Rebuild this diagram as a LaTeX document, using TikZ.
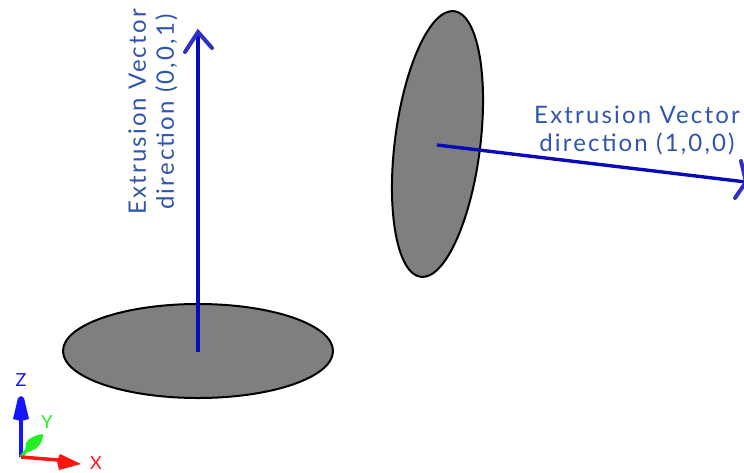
\documentclass[tikz,border=0pt]{standalone}
\usepackage{fontspec}
\setmainfont{Lato}[LetterSpace=9]
\definecolor{vec}{HTML}{0A0AB8}
\definecolor{lab}{HTML}{2F55B0}
\definecolor{disc}{HTML}{7F7F7F}
\definecolor{axz}{HTML}{1414FF}
\definecolor{axy}{HTML}{22EE22}
\definecolor{axx}{HTML}{FF1414}
\tikzset{
  discshape/.style={draw=black,fill=disc,line width=2pt},
  vecline/.style={draw=vec,line width=3.4pt},
  vechead/.style={draw=vec!85!white,line width=4pt,line cap=round},
  lbl/.style={text=lab,font=\fontsize{24}{28}\selectfont,align=center,inner sep=0pt},
  axl/.style={font=\fontsize{18}{18}\selectfont,inner sep=0pt},
}
\begin{document}
\begin{tikzpicture}[x=1pt,y=-1pt]
\useasboundingbox (0,0) rectangle (744,472);
% discs
\draw[discshape] (198,351) ellipse [x radius=135,y radius=47];
\draw[discshape] (437.5,144) ellipse [x radius=42.7,y radius=133.9,rotate=-7.17];
% vectors
\coordinate (v1s) at (198,352);
\coordinate (v1e) at (198,32);
\coordinate (v1l) at (185,52);
\coordinate (v1r) at (212,48);
\coordinate (v2s) at (437,145);
\coordinate (v2e) at (746,182);
\coordinate (v2u) at (741,161);
\coordinate (v2d) at (735,198);
\draw[vecline] (v1s) -- (v1e);
\draw[vechead] (v1l) -- (v1e) -- (v1r);
\draw[vecline] (v2s) -- (v2e);
\draw[vechead] (v2u) -- (v2e) -- (v2d);
% labels
\node[lbl,rotate=90] (lv) at (153,112) {Extrusion Vector\\direction (0,0,1)};
\node[lbl] (lh) at (637,130) {Extrusion Vector\\direction (1,0,0)};
% axes
\coordinate (o) at (21,457);
\node[axl,text=axz] (zl) at (21,380) {Z};
\node[axl,text=axy] (yl) at (47,422) {Y};
\node[axl,text=axx] (xl) at (96,463) {X};
\coordinate (zb) at (21,419);
\coordinate (yb) at (31,445);
\coordinate (xb) at (58,460);
\draw[axz,line width=3.5pt] (o) -- (zb);
\fill[axz] (21,396) -- (24,398) -- (29,419) -- (21,421) -- (13,419) -- (18,398) -- cycle;
\draw[axy,line width=3.5pt] (o) -- (yb);
\fill[axy] (43,434) .. controls (43,442) and (38,449) .. (31,451) -- (25,453) -- (26,443) .. controls (29,437) and (37,435) .. (43,434) -- cycle;
\draw[axx,line width=3.5pt] (o) -- (xb);
\fill[axx] (81,464) -- (59,470) -- (57,461) -- (60,454) -- cycle;
\end{tikzpicture}
\end{document}
